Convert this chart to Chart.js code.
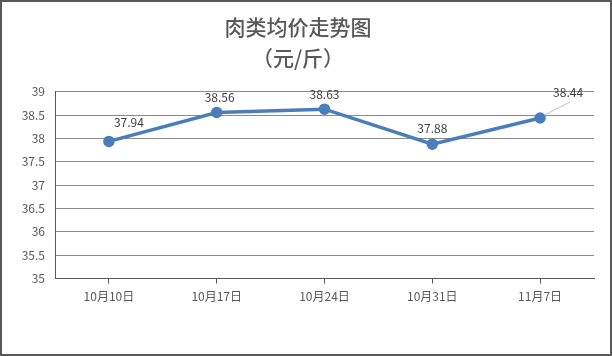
<!DOCTYPE html>
<html><head><meta charset="utf-8">
<script src="https://cdn.jsdelivr.net/npm/chart.js@4/dist/chart.umd.min.js"></script>
<style>
html,body{margin:0;padding:0;background:#fff;}
#wrap{position:absolute;left:0;top:0;width:608px;height:352px;border:2px solid #595959;background:#fff;}
canvas{display:block;}
</style></head><body>
<div id="wrap"><canvas id="c" width="608" height="352"></canvas></div>
<script>
const titleLines = ['肉类均价走势图', '（元/斤）'];
const categories = ['10月10日', '10月17日', '10月24日', '10月31日', '11月7日'];
const prices = [37.94, 38.56, 38.63, 37.88, 38.44];
const yMin = 35, yMax = 39, yStep = 0.5;

const labelPlugin = {
  id: 'labels',
  afterDatasetsDraw(chart) {
    const ctx = chart.ctx;
    const meta = chart.getDatasetMeta(0);
    ctx.save();
    ctx.font = '12px "Noto Sans CJK SC", "DejaVu Sans", sans-serif';
    ctx.fillStyle = '#404040';
    ctx.textAlign = 'center';
    ctx.textBaseline = 'middle';
    const offs = [[20, -19], [3, -15], [0, -15], [0, -16], [28, -26]];
    meta.data.forEach((pt, i) => {
      const o = offs[i];
      if (i === meta.data.length - 1) {
        ctx.strokeStyle = '#bfbfbf';
        ctx.lineWidth = 1;
        ctx.beginPath();
        ctx.moveTo(pt.x + 4, pt.y - 3);
        ctx.lineTo(pt.x + o[0] + 2, pt.y + o[1] + 10);
        ctx.stroke();
      }
      ctx.fillText(prices[i].toFixed(2), pt.x + o[0], pt.y + o[1]);
    });
    ctx.restore();
  }
};

new Chart(document.getElementById('c'), {
  type: 'line',
  data: {
    labels: categories,
    datasets: [{
      data: prices,
      borderColor: '#4a7ebb',
      backgroundColor: '#4a7ebb',
      borderWidth: 3.5,
      pointRadius: 4,
      pointBackgroundColor: '#4a7ebb',
      pointBorderColor: '#4a7ebb',
      tension: 0
    }]
  },
  options: {
    responsive: false,
    animation: false,
    layout: { padding: { top: 0, right: 16, bottom: 44, left: 0 } },
    plugins: {
      legend: { display: false },
      tooltip: { enabled: false },
      title: {
        display: true,
        text: titleLines,
        color: '#595959',
        font: { size: 21, family: '"Noto Sans CJK SC", sans-serif', weight: '500', lineHeight: 1.45 },
        padding: { top: 10, bottom: 19 }
      }
    },
    scales: {
      x: {
        offset: true,
        grid: { display: true, drawOnChartArea: false, drawTicks: true, tickLength: 5, color: '#595959', lineWidth: 1 },
        border: { display: true, color: '#595959', width: 1 },
        ticks: { color: '#595959', font: { size: 12, family: '"Noto Sans CJK SC", sans-serif' }, padding: 6, maxRotation: 0 }
      },
      y: {
        min: yMin, max: yMax,
        afterFit(s) { s.width = 53; },
        grid: { color: '#8c8c8c', lineWidth: 1, drawTicks: false },
        border: { display: true, color: '#595959', width: 1 },
        ticks: { stepSize: yStep, color: '#595959', font: { size: 12, family: '"Noto Sans CJK SC", sans-serif' }, padding: 10,
          callback: v => String(v) }
      }
    }
  },
  plugins: [labelPlugin]
});
</script>
</body></html>
